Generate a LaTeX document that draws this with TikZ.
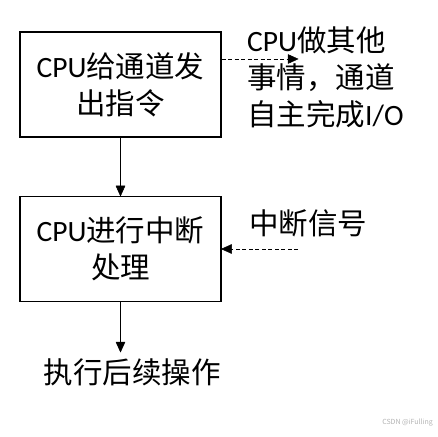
\documentclass[tikz,border=0pt]{standalone}
\usepackage{fontspec}
\setmainfont{Noto Sans CJK SC}
\newfontfamily\lat{Carlito}
\usetikzlibrary{calc}
\tikzstyle{stepbox}=[draw=black,line width=1.2pt,minimum width=201pt,minimum height=105pt,align=center,inner sep=0pt]
\tikzstyle{flow}=[line width=1pt]
\tikzstyle{hint}=[line width=0.9pt,dash pattern=on 4pt off 2.5pt]
\tikzstyle{tip}=[fill=black,draw=black,line width=0.5pt,line join=round]
% filled arrow heads, drawn by hand
\newcommand\tipdown[1]{\path[tip] (#1) -- ++(-4.5,10) -- ++(9,0) -- cycle;}
\newcommand\tipright[1]{\path[tip] (#1) -- ++(-10,4.5) -- ++(0,-9) -- cycle;}
\newcommand\tipleft[1]{\path[tip] (#1) -- ++(10,4.5) -- ++(0,-9) -- cycle;}

\begin{document}
\begin{tikzpicture}[x=1pt,y=1pt,font=\fontsize{29.5}{37}\selectfont]
\useasboundingbox (0,0) rectangle (438,436);
%boxes
\node[stepbox] (issue) at (120.5,351.5) {{\lat CPU}给通道发\\出指令};
\node[stepbox] (intr) at (120.5,187) {{\lat CPU}进行中断\\处理};
\node[anchor=north,inner sep=0pt] (next) at (132,78) {执行后续操作};
%side notes
\node[anchor=north west,align=left,inner sep=0pt] (other) at (247,409) {{\lat CPU}做其他\\事情，通道\\自主完成{\lat I/O}};
\node[anchor=north west,inner sep=0pt] (signal) at (249,227) {中断信号};
\coordinate (otherend) at (298,377);
\coordinate (signalstart) at (298,187);
\coordinate (nextin) at ([yshift=6pt]intr.south |- next.north);
%flow
\draw[flow] (issue.south) -- ([yshift=8pt]intr.north);
\tipdown{intr.north}
\draw[flow] (intr.south) -- ([yshift=8pt]nextin);
\tipdown{nextin}
\draw[hint] (issue.east |- otherend) -- ([xshift=-8pt]otherend);
\tipright{otherend}
\draw[hint] (signalstart) -- ([xshift=8pt]intr.east |- signalstart);
\tipleft{intr.east |- signalstart}
%watermark
\node[anchor=east,inner sep=0pt,font=\fontsize{7}{8}\selectfont,text=black!30] (mark) at (433,13) {CSDN @iFulling};
\end{tikzpicture}
\end{document}
